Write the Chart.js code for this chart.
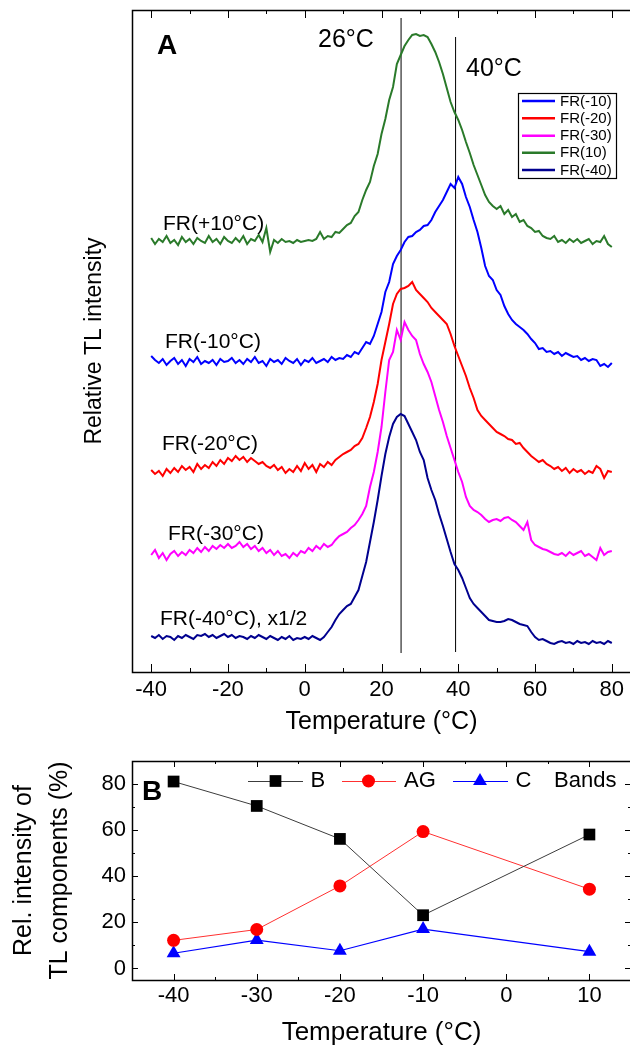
<!DOCTYPE html>
<html><head><meta charset="utf-8">
<script src="https://cdn.jsdelivr.net/npm/chart.js@4.4.1/dist/chart.umd.min.js"></script>
<style>
html,body{margin:0;padding:0;background:#fff;overflow:hidden;width:630px;height:1048px;}
#wrapA{position:absolute;left:0;top:0;width:640px;height:740px;}
#wrapB{position:absolute;left:0;top:735px;width:640px;height:313px;}
canvas{display:block;}
</style></head><body>
<div id="wrapA"><canvas id="chartA" width="640" height="740"></canvas></div>
<div id="wrapB"><canvas id="chartB" width="640" height="313"></canvas></div>
<script>
// ---------- Panel A data (temperature grid, °C) ----------
const temperatures = [-40,-39,-38,-37,-36,-35,-34,-33,-32,-31,-30,-29,-28,-27,-26,-25,-24,-23,-22,-21,
-20,-19,-18,-17,-16,-15,-14,-13,-12,-11,-10,-9,-8,-7,-6,-5,-4,-3,-2,-1,
0,1,2,3,4,5,6,7,8,9,10,11,12,13,14,15,16,17,18,19,20,21,22,23,24,25,26,27,28,29,
30,31,32,33,34,35,36,37,38,39,40,41,42,43,44,45,46,47,48,49,50,51,52,53,54,55,56,57,58,59,
60,61,62,63,64,65,66,67,68,69,70,71,72,73,74,75,76,77,78,79,80];

// relative TL intensity (arbitrary units, curves vertically offset as in the figure)
const fr10 = [434,428,433,430,436,429,432,427,435,430,
433,428,434,431,429,436,430,433,428,435,
431,429,434,430,436,428,433,431,437,430,
444,420,432,429,433,430,431,429,432,430,
431,432,431,433,440,433,436,435,440,439,
443,447,449,456,460,472,482,490,506,518,
538,553,572,585,608,617,626,632,637,638,
636,637,635,628,620,610,598,584,570,560,
552,542,530,519,507,497,487,477,470,466,
463,466,458,462,455,458,450,452,446,444,
440,441,436,434,433,436,430,432,429,433,
430,433,429,431,433,428,431,430,436,428,425];

const frMinus10 = [316,312,309,313,307,311,314,308,312,306,
313,310,315,308,311,309,312,307,313,310,
311,314,309,312,308,313,310,315,309,311,
306,313,310,312,308,314,311,309,313,307,
312,310,314,309,311,313,310,315,312,314,
313,317,315,320,318,324,330,328,336,348,
360,380,390,408,416,422,430,435,436,440,
442,446,447,452,460,466,472,480,488,484,
495,488,475,465,452,440,424,406,396,392,
382,377,366,358,352,348,345,342,338,333,
329,323,324,320,321,318,320,316,319,317,
315,316,312,314,311,313,312,306,308,305,309];

const frMinus20 = [202,198,201,196,203,199,204,200,206,202,
205,200,208,203,207,204,210,206,212,208,
214,211,216,212,215,210,214,211,208,210,
206,204,207,202,205,199,203,200,206,201,
209,203,207,200,208,205,210,207,212,215,
218,220,222,226,228,234,244,255,270,288,
312,330,348,368,378,383,384,386,390,382,
378,374,370,364,360,356,352,348,338,326,
316,306,296,284,274,262,256,252,248,244,
240,238,236,233,232,228,229,224,220,216,
213,210,212,208,206,203,205,201,204,199,
203,200,202,198,201,199,206,203,194,201,200];

const frMinus30 = [117,122,114,119,112,118,121,116,120,117,
122,119,124,120,125,121,126,123,127,124,
128,124,126,130,125,128,123,126,121,124,
119,122,117,121,116,118,114,119,116,121,
119,124,121,126,123,128,125,127,132,136,
138,140,144,147,152,158,166,185,200,220,
245,280,312,320,342,332,350,342,336,332,
318,308,300,290,276,262,250,236,224,212,
200,190,175,166,162,160,157,153,150,152,
153,151,154,155,152,150,146,142,150,132,
127,125,123,122,120,118,117,119,116,120,
117,119,121,116,118,115,112,124,117,120,121];

const frMinus40 = [36,34,37,33,36,35,32,36,34,37,
35,33,37,36,38,35,37,34,36,38,
35,37,34,36,35,33,36,34,37,35,
33,36,34,32,35,33,36,32,34,33,
35,33,36,34,32,35,40,45,52,58,
62,66,68,75,82,96,110,130,150,172,
196,218,235,248,255,258,256,248,240,232,
220,212,194,182,172,158,146,133,120,108,
102,94,84,74,68,64,60,56,52,51,
50,50,51,53,52,50,48,47,46,40,
35,32,33,31,29,28,30,31,29,30,
28,31,29,30,28,31,29,30,28,31,29];

const markerTemps = [25.1, 39.3];       // vertical reference lines (labelled 26°C and 40°C)
const markerLine26 = [19, 654];
const markerLine40 = [20, 635];
const xTicksA = [-40,-20,0,20,40,60,80];
const xMinorA = [-30,-10,10,30,50,70];
const legendOrderA = ['FR(-10)','FR(-20)','FR(-30)','FR(10)','FR(-40)'];

// ---------- Panel B data ----------
const bandTemps = [-40,-30,-20,-10,10];
const bandB  = [81.1,70.5,56.2,23.1,58.1];
const bandAG = [12.2,16.9,35.8,59.4,34.4];
const bandC  = [6.6,12.3,7.7,17.1,7.3];
const xTicksB = [-40,-30,-20,-10,0,10];
const xMinorB = [-35,-25,-15,-5,5];
const yTicksB = [0,20,40,60,80];
const yMinorB = [10,30,50,70];

const FONT = "'Liberation Sans', Arial, Helvetica, sans-serif";
const pts = (xs, ys) => xs.map((x, i) => ({x: x, y: ys[i]}));

// ---------- helpers ----------
function drawFrame(chart, xMaj, xMin, yMaj, yMin, majLen, minLen, lw) {
  const {ctx, chartArea: a, scales} = chart;
  ctx.save();
  ctx.strokeStyle = '#000';
  ctx.lineWidth = lw;
  ctx.strokeRect(a.left + 0.5, a.top + 0.5, a.right - a.left, a.bottom - a.top);
  ctx.lineWidth = 1;
  ctx.beginPath();
  const xs = scales.x, ys = scales.y;
  const tickX = (v, len) => {
    const p = Math.round(xs.getPixelForValue(v)) + 0.5;
    ctx.moveTo(p, a.top); ctx.lineTo(p, a.top + len);
    ctx.moveTo(p, a.bottom); ctx.lineTo(p, a.bottom - len);
  };
  const tickY = (v, len) => {
    const p = Math.round(ys.getPixelForValue(v)) + 0.5;
    ctx.moveTo(a.left, p); ctx.lineTo(a.left + len, p);
    ctx.moveTo(a.right, p); ctx.lineTo(a.right - len, p);
  };
  xMaj.forEach(v => tickX(v, majLen));
  xMin.forEach(v => tickX(v, minLen));
  yMaj.forEach(v => tickY(v, majLen));
  yMin.forEach(v => tickY(v, minLen));
  ctx.stroke();
  ctx.restore();
}

function drawMarker(ctx, style, x, y, r, color) {
  ctx.save();
  ctx.fillStyle = color;
  ctx.beginPath();
  if (style === 'rect') {
    const s = Math.SQRT1_2 * r;
    ctx.rect(x - s, y - s, 2 * s, 2 * s);
  } else if (style === 'triangle') {
    ctx.moveTo(x, y - r);
    ctx.lineTo(x + r * 0.866, y + r / 2);
    ctx.lineTo(x - r * 0.866, y + r / 2);
    ctx.closePath();
  } else {
    ctx.arc(x, y, r, 0, Math.PI * 2);
  }
  ctx.fill();
  ctx.restore();
}

// ---------- Panel A ----------
const framePluginA = {
  id: 'frameA',
  afterDatasetsDraw(chart) {
    drawFrame(chart, xTicksA, xMinorA, [], [], 8, 4, 1.5);
    const ctx = chart.ctx;
    ctx.save();
    ctx.fillStyle = '#000';
    ctx.textBaseline = 'middle';
    ctx.textAlign = 'left';
    ctx.font = 'bold 28px ' + FONT;
    ctx.fillText('A', 157, 46);
    ctx.font = '25px ' + FONT;
    ctx.fillText('26°C', 318, 40);
    ctx.fillText('40°C', 466, 69);
    ctx.font = '21px ' + FONT;
    const labels = [['FR(+10°C)',163,224],['FR(-10°C)',165,342],['FR(-20°C)',162,444],['FR(-30°C)',168,534],['FR(-40°C), x1/2',160,619]];
    labels.forEach(l => ctx.fillText(l[0], l[1], l[2]));
    // legend
    ctx.lineWidth = 1.2;
    ctx.strokeStyle = '#000';
    ctx.strokeRect(518.5, 93.5, 98, 85);
    const rows = [101, 118.3, 135.7, 152.7, 170];
    ctx.font = '15px ' + FONT;
    legendOrderA.forEach((name, i) => {
      const ds = chart.data.datasets.find(d => d.label === name);
      ctx.strokeStyle = ds.borderColor;
      ctx.lineWidth = 2.5;
      ctx.beginPath();
      ctx.moveTo(522, rows[i]); ctx.lineTo(555, rows[i]);
      ctx.stroke();
      ctx.fillStyle = '#000';
      ctx.fillText(name, 560, rows[i] + 0.5);
    });
    ctx.restore();
  }
};

const lineDs = (label, values, color) => ({
  label: label, data: pts(temperatures, values), borderColor: color,
  borderWidth: 2, pointRadius: 0, fill: false, tension: 0
});

new Chart(document.getElementById('chartA'), {
  type: 'line',
  data: {
    datasets: [
      lineDs('FR(10)', fr10, '#2a7a2a'),
      lineDs('FR(-10)', frMinus10, '#0000ff'),
      lineDs('FR(-20)', frMinus20, '#ff0000'),
      lineDs('FR(-30)', frMinus30, '#ff00ff'),
      lineDs('FR(-40)', frMinus40, '#00008f'),
      {label: 'line26', data: pts([markerTemps[0], markerTemps[0]], markerLine26), borderColor: '#000', borderWidth: 1, pointRadius: 0},
      {label: 'line40', data: pts([markerTemps[1], markerTemps[1]], markerLine40), borderColor: '#000', borderWidth: 1, pointRadius: 0}
    ]
  },
  options: {
    responsive: false, animation: false, devicePixelRatio: 1,
    layout: {padding: {top: 10, right: 9, left: 0, bottom: 0}},
    plugins: {legend: {display: false}, tooltip: {enabled: false}},
    scales: {
      x: {
        type: 'linear', min: -45, max: 85,
        grid: {display: false, drawTicks: false}, border: {display: false},
        afterBuildTicks: s => { s.ticks = xTicksA.map(v => ({value: v})); },
        afterFit: s => { s.height = 68; },
        ticks: {font: {family: FONT, size: 22}, color: '#000', padding: 5, maxRotation: 0, autoSkip: false},
        title: {display: true, text: 'Temperature (°C)', font: {family: FONT, size: 25}, color: '#000', padding: {top: 0, bottom: 3}}
      },
      y: {
        type: 'linear', min: 0, max: 662,
        grid: {display: false, drawTicks: false}, border: {display: false},
        ticks: {display: false},
        afterFit: s => { s.width = 132; },
        title: {display: true, text: 'Relative TL intensity', font: {family: FONT, size: 23}, color: '#000', padding: {top: 81, bottom: 0}}
      }
    }
  },
  plugins: [framePluginA]
});

// ---------- Panel B ----------
const framePluginB = {
  id: 'frameB',
  afterDatasetsDraw(chart) {
    drawFrame(chart, xTicksB, xMinorB, yTicksB, yMinorB, 6, 3, 1.5);
    const ctx = chart.ctx;
    ctx.save();
    ctx.fillStyle = '#000';
    ctx.textBaseline = 'middle';
    ctx.textAlign = 'left';
    ctx.font = 'bold 28px ' + FONT;
    ctx.fillText('B', 142, 57);
    // inline legend
    const y = 46;
    const items = [
      {ds: 0, x1: 248, x2: 303, mx: 275.5, tx: 310.5},
      {ds: 1, x1: 342, x2: 396, mx: 368.5, tx: 404},
      {ds: 2, x1: 453, x2: 508, mx: 480, tx: 515.5}
    ];
    ctx.font = '22px ' + FONT;
    items.forEach(it => {
      const d = chart.data.datasets[it.ds];
      ctx.strokeStyle = d.borderColor;
      ctx.lineWidth = d.borderWidth;
      ctx.beginPath();
      ctx.moveTo(it.x1, y + 0.5); ctx.lineTo(it.x2, y + 0.5);
      ctx.stroke();
      drawMarker(ctx, d.pointStyle, it.mx, y, d.pointRadius, d.pointBackgroundColor);
      ctx.fillStyle = '#000';
      ctx.fillText(d.label, it.tx, y);
    });
    ctx.fillText('Bands', 554, y);
    ctx.restore();
  }
};

new Chart(document.getElementById('chartB'), {
  type: 'line',
  data: {
    datasets: [
      {label: 'B', data: pts(bandTemps, bandB), borderColor: '#3c3c3c', borderWidth: 1,
       pointStyle: 'rect', pointRadius: 8.3, pointBackgroundColor: '#000', pointBorderColor: '#000', pointBorderWidth: 0},
      {label: 'AG', data: pts(bandTemps, bandAG), borderColor: '#ff3030', borderWidth: 1,
       pointStyle: 'circle', pointRadius: 6.5, pointBackgroundColor: '#ff0000', pointBorderColor: '#ff0000', pointBorderWidth: 0},
      {label: 'C', data: pts(bandTemps, bandC), borderColor: '#0000ff', borderWidth: 1.2,
       pointStyle: 'triangle', pointRadius: 8, pointBackgroundColor: '#0000ff', pointBorderColor: '#0000ff', pointBorderWidth: 0}
    ]
  },
  options: {
    responsive: false, animation: false, devicePixelRatio: 1,
    layout: {padding: {top: 26, right: 9, left: 0, bottom: 0}},
    plugins: {legend: {display: false}, tooltip: {enabled: false}},
    scales: {
      x: {
        type: 'linear', min: -45, max: 15,
        grid: {display: false, drawTicks: false}, border: {display: false},
        afterBuildTicks: s => { s.ticks = xTicksB.map(v => ({value: v})); },
        afterFit: s => { s.height = 68; },
        ticks: {font: {family: FONT, size: 22}, color: '#000', padding: 3, maxRotation: 0, autoSkip: false},
        title: {display: true, text: 'Temperature (°C)', font: {family: FONT, size: 26}, color: '#000', padding: {top: 0, bottom: 0}}
      },
      y: {
        type: 'linear', min: -5, max: 90,
        grid: {display: false, drawTicks: false}, border: {display: false},
        afterBuildTicks: s => { s.ticks = yTicksB.map(v => ({value: v})); },
        afterFit: s => { s.width = 132; },
        ticks: {font: {family: FONT, size: 22}, color: '#000', padding: 6},
        title: {display: true, text: ['Rel. intensity of', 'TL components (%)'], font: {family: FONT, size: 25, lineHeight: 1.44}, color: '#000', padding: {top: 6, bottom: 0}}
      }
    }
  },
  plugins: [framePluginB]
});
</script>
</body></html>
